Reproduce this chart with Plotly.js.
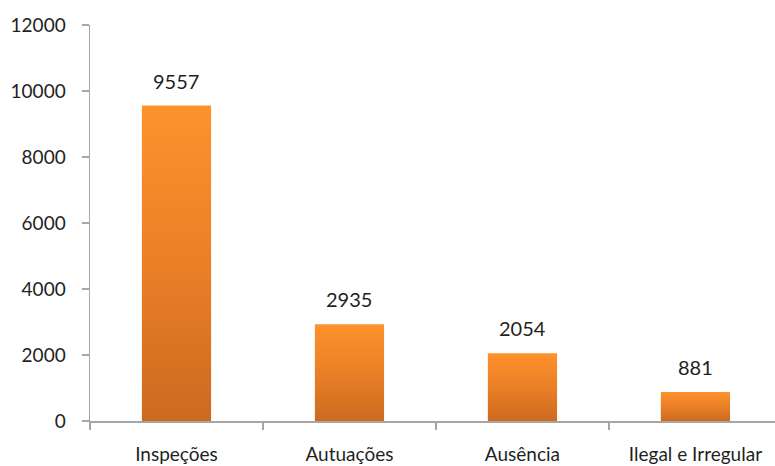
<!DOCTYPE html>
<html>
<head>
<meta charset="utf-8">
<script src="https://cdn.plot.ly/plotly-3.0.1.min.js"></script>
<style>
html,body{margin:0;padding:0;background:#fff;}
#chart{width:775px;height:466px;}
</style>
</head>
<body>
<div id="chart"></div>
<script>
const categories = ["Inspeções", "Autuações", "Ausência", "Ilegal e Irregular"];
const values = [9557, 2935, 2054, 881];
const yTicks = [0, 2000, 4000, 6000, 8000, 10000, 12000];

const FONT = "Lato, 'Open Sans', sans-serif";
const TXT = "#1f1f1f";
const AXIS = "#a6a6a6";

const trace = {
  type: "bar",
  x: categories,
  y: values,
  width: 0.4,
  marker: {color: "#f08a2c", line: {width: 0}},
  hoverinfo: "none"
};

const annotations = categories.map((c, i) => ({
  x: c, y: values[i], xref: "x", yref: "y",
  text: String(values[i]), showarrow: false,
  yanchor: "bottom", yshift: 11,
  font: {family: FONT, size: 20, color: TXT}
}));

const layout = {
  width: 775, height: 466,
  margin: {l: 90, r: 0, t: 25, b: 45, pad: 0},
  paper_bgcolor: "#fff", plot_bgcolor: "#fff",
  showlegend: false,
  font: {family: FONT, size: 19, color: TXT},
  xaxis: {
    type: "category",
    range: [-0.5, 3.46],
    showline: true, linecolor: AXIS, linewidth: 1.5,
    ticks: "outside", tickson: "boundaries", ticklen: 7, tickcolor: AXIS, tickwidth: 1.5,
    ticklabelstandoff: 16,
    tickfont: {family: FONT, size: 19, color: TXT},
    showgrid: false, zeroline: false, fixedrange: true
  },
  yaxis: {
    range: [0, 12000],
    tickvals: yTicks,
    ticktext: yTicks.map(String),
    showline: true, linecolor: AXIS, linewidth: 1.5,
    ticks: "outside", ticklen: 7, tickcolor: AXIS, tickwidth: 1.5,
    ticklabelstandoff: 12,
    tickfont: {family: FONT, size: 19, color: TXT},
    showgrid: false, zeroline: false, fixedrange: true
  },
  annotations: annotations,
  bargap: 0.6
};

function applyGradient(gd) {
  const svg = gd.querySelector("svg.main-svg");
  if (!svg) return;
  const ns = "http://www.w3.org/2000/svg";
  let defs = svg.querySelector("defs");
  if (!defs) { defs = document.createElementNS(ns, "defs"); svg.insertBefore(defs, svg.firstChild); }
  if (!svg.querySelector("#barGrad")) {
    const g = document.createElementNS(ns, "linearGradient");
    g.setAttribute("id", "barGrad");
    g.setAttribute("x1", "0"); g.setAttribute("y1", "0");
    g.setAttribute("x2", "0"); g.setAttribute("y2", "1");
    [["0", "#fe922c"], ["0.5", "#ea7f27"], ["1", "#cc6a20"]].forEach(([o, c]) => {
      const s = document.createElementNS(ns, "stop");
      s.setAttribute("offset", o); s.setAttribute("stop-color", c);
      g.appendChild(s);
    });
    defs.appendChild(g);
  }
  gd.querySelectorAll(".bars .point path").forEach(p => {
    p.style.fill = "url(#barGrad)";
  });
}

const gd = document.getElementById("chart");
Plotly.newPlot(gd, [trace], layout, {displayModeBar: false, staticPlot: true}).then(() => {
  applyGradient(gd);
  gd.on("plotly_afterplot", () => applyGradient(gd));
});
</script>
</body>
</html>
